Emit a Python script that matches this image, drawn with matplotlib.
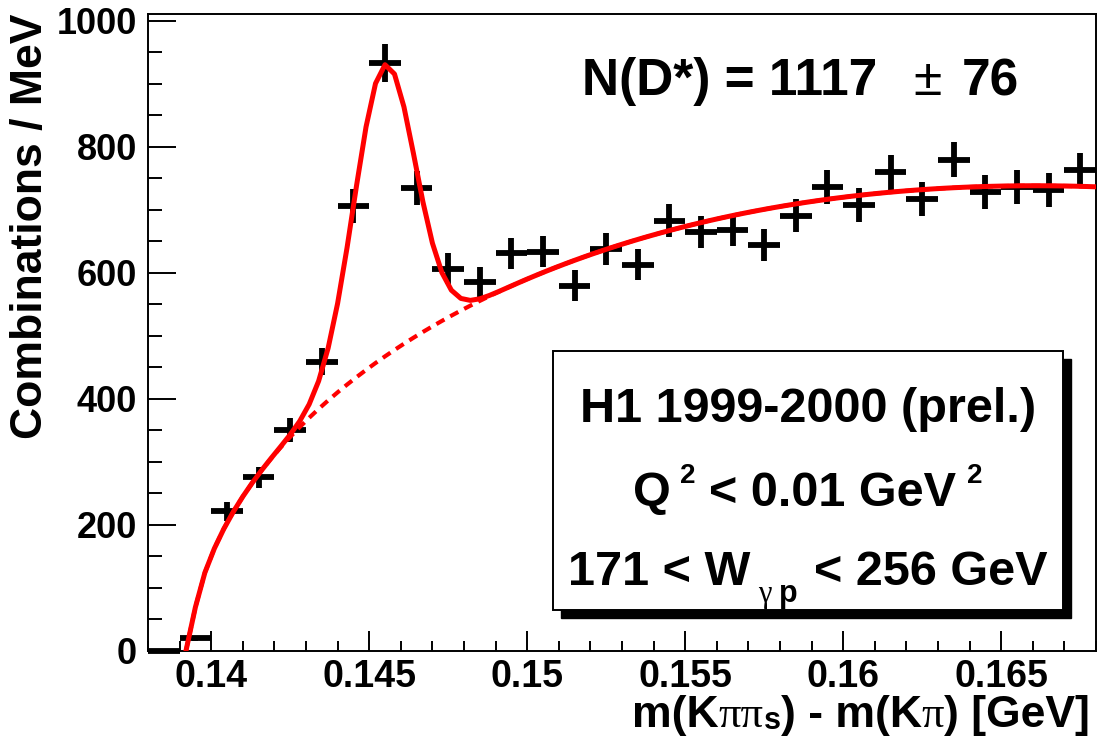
import numpy as np
import matplotlib
matplotlib.use("Agg")
import matplotlib.pyplot as plt
from matplotlib.patches import Rectangle
from matplotlib.ticker import MultipleLocator
from matplotlib.transforms import IdentityTransform

plt.rcParams['font.family'] = ['Liberation Sans', 'DejaVu Sans']
plt.rcParams['font.weight'] = 'bold'
plt.rcParams['axes.labelweight'] = 'bold'

# histogram: delta-m bins (1 MeV wide)
bin_centers = [0.1385, 0.1395, 0.1405, 0.1415, 0.1425, 0.1435, 0.1445, 0.1455,
               0.1465, 0.1475, 0.1485, 0.1495, 0.1505, 0.1515, 0.1525, 0.1535,
               0.1545, 0.1555, 0.1565, 0.1575, 0.1585, 0.1595, 0.1605, 0.1615,
               0.1625, 0.1635, 0.1645, 0.1655, 0.1665, 0.1675]
counts = [0, 20, 222, 276, 351, 459, 706, 933,
          735, 607, 586, 631, 634, 580, 638, 613,
          683, 665, 668, 644, 691, 737, 708, 760,
          717, 780, 729, 737, 731, 763]
errors = [0, 4.5, 14.9, 16.6, 18.7, 21.4, 26.6, 30.5,
          27.1, 24.6, 24.2, 25.1, 25.2, 24.1, 25.3, 24.8,
          26.1, 25.8, 25.8, 25.4, 26.3, 27.1, 26.6, 27.6,
          26.8, 27.9, 27.0, 27.1, 27.0, 27.6]
bin_half = 0.0005

xtick_vals = [0.14, 0.145, 0.15, 0.155, 0.16, 0.165]
xtick_labels = ['0.14', '0.145', '0.15', '0.155', '0.16', '0.165']
ytick_vals = [0, 200, 400, 600, 800, 1000]

# fit result: gaussian signal + threshold background
sig_amp, sig_mean, sig_sigma = 463.0, 0.14548, 0.00096
bg_norm, bg_thr, bg_pow, bg_curv = 13490.0, 0.13935, 0.5325, 22.6


def background(x):
    t = np.maximum(x - bg_thr, 0)
    return bg_norm * t ** bg_pow * (1 - bg_curv * x ** 2)


def total(x):
    return background(x) + sig_amp * np.exp(-0.5 * ((x - sig_mean) / sig_sigma) ** 2)


W, H = 1100, 744
fig = plt.figure(figsize=(11, 7.44), dpi=100)
ax = fig.add_axes([148 / W, 1 - 651 / H, (1096 - 148) / W, (651 - 14) / H])

ax.errorbar(bin_centers, counts, xerr=bin_half, yerr=errors, fmt='none',
            ecolor='black', elinewidth=4.2, capsize=0, clip_on=False, zorder=3)

# function sampled like ROOT (100 steps), starting from the last point below threshold
grid = np.linspace(0.138, 0.168, 101)
first = np.argmax(grid > bg_thr)
xf = grid[first - 1:]
bg_line, = ax.plot(xf, background(xf), color='red', lw=3.0, zorder=4)
bg_line.set_dashes((2.2, 1.6))
ax.plot(xf, total(xf), color='red', lw=3.6, zorder=5)

ax.set_xlim(0.138, 0.168)
ax.set_ylim(0, 1011)
ax.set_xticks(xtick_vals)
ax.set_xticklabels(xtick_labels)
ax.set_yticks(ytick_vals)
ax.xaxis.set_minor_locator(MultipleLocator(0.001))
ax.yaxis.set_minor_locator(MultipleLocator(50))
ax.tick_params(axis='x', which='major', direction='in', length=14.5, width=1.4,
               labelsize=27, pad=6)
ax.tick_params(axis='x', which='minor', direction='in', length=7.2, width=1.4)
ax.tick_params(axis='y', which='major', direction='in', length=20, width=1.4,
               labelsize=26, pad=8)
ax.tick_params(axis='y', which='minor', direction='in', length=10, width=1.4)
for sp in ax.spines.values():
    sp.set_linewidth(1.4)

ylab = ax.set_ylabel('Combinations / MeV', fontsize=32, fontweight='bold', loc='top')
ylab.set_rotation_mode('anchor')
ylab.set_va('baseline')
ax.yaxis.set_label_coords((42 - 148) / 948, 1.0)

renderer = fig.canvas.get_renderer()


def rich(pieces, x, y, ha='left'):
    # pieces: (text, size, weight, family, gap_px, raise_px); x, y in image pixels
    arts = []
    for s, fs, wt, fam, gap, dy in pieces:
        t = fig.text(0, 0, s, fontsize=fs, fontweight=wt, family=fam,
                     ha='left', va='baseline', transform=IdentityTransform(), zorder=10)
        arts.append((t, gap, dy))
    widths = [t.get_window_extent(renderer).width for t, _, _ in arts]
    span = sum(widths) + sum(g for _, g, _ in arts)
    x0 = {'left': x, 'center': x - span / 2, 'right': x - span}[ha]
    for (t, gap, dy), wd in zip(arts, widths):
        x0 += gap
        t.set_position((x0, H - y + dy))
        x0 += wd


sans = ['Liberation Sans', 'DejaVu Sans']
serif = ['Liberation Serif', 'DejaVu Serif']

# x axis title
rich([('m(K', 32, 'bold', sans, 0, 0), ('\u03c0\u03c0', 32, 'normal', serif, 0, 0),
      ('s', 22, 'bold', sans, 0, -2), (') - m(K', 32, 'bold', sans, 0, 0),
      ('\u03c0', 32, 'normal', serif, 0, 0), (') [GeV]', 32, 'bold', sans, 0, 0)],
     1090, 727, ha='right')

# fitted yield
rich([('N(D*) = 1117', 37, 'bold', sans, 0, 0), ('\u00b1', 37, 'normal', sans, 36, 0),
      ('76', 37, 'bold', sans, 20, 0)], 582, 95)

# info box with shadow
bx0, by0, bx1, by1 = 553, 351, 1063, 610
fig.add_artist(Rectangle(((bx0 + 8) / W, 1 - (by1 + 8) / H), (bx1 - bx0) / W, (by1 - by0) / H,
                         transform=fig.transFigure, facecolor='black', edgecolor='black', zorder=8))
fig.add_artist(Rectangle((bx0 / W, 1 - by1 / H), (bx1 - bx0) / W, (by1 - by0) / H,
                         transform=fig.transFigure, facecolor='white', edgecolor='black',
                         lw=1.4, zorder=9))
cx = (bx0 + bx1) / 2
rich([('H1 1999-2000 (prel.)', 35, 'bold', sans, 0, 0)], cx, 422, ha='center')
rich([('Q', 35, 'bold', sans, 0, 0), ('2', 20, 'bold', sans, 9, 23),
      ('< 0.01 GeV', 35, 'bold', sans, 14, 0), ('2', 20, 'bold', sans, 11, 23)],
     cx, 506, ha='center')
rich([('171 < W', 35, 'bold', sans, 0, 0), ('\u03b3', 22, 'normal', serif, 7, -17),
      ('p', 22, 'bold', sans, 8, -17), ('< 256 GeV', 35, 'bold', sans, 16, 0)],
     cx, 585, ha='center')

fig.savefig('out.png', dpi=100)
